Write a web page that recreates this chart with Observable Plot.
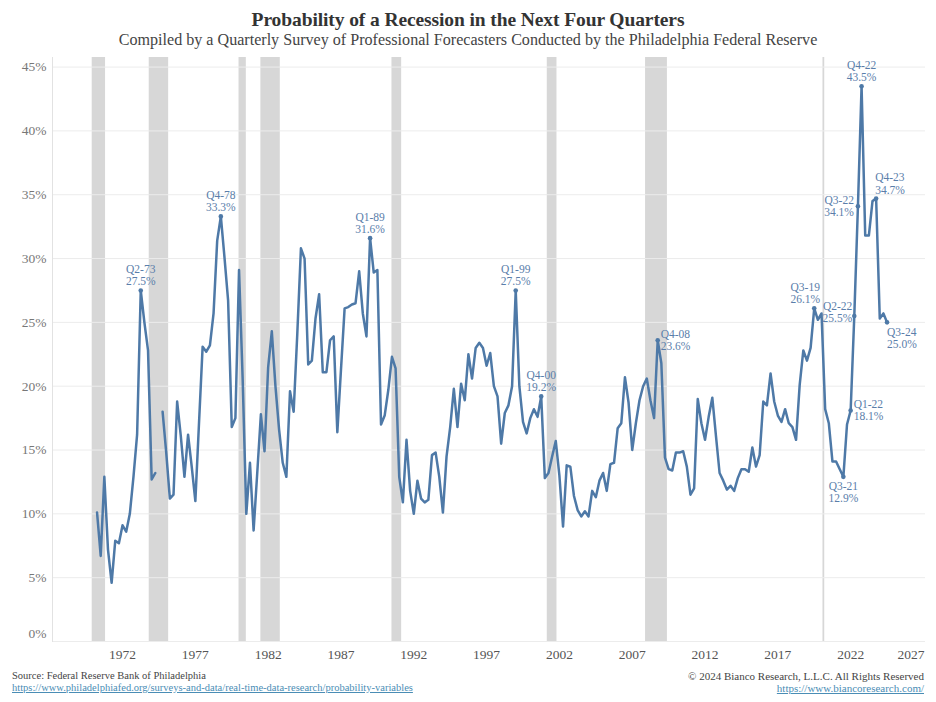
<!DOCTYPE html>
<html>
<head>
<meta charset="utf-8">
<script src="https://cdn.jsdelivr.net/npm/d3@7"></script>
<script src="https://cdn.jsdelivr.net/npm/@observablehq/plot@0.6"></script>
<style>
  html, body { margin: 0; padding: 0; background: #fff; }
  body { width: 936px; height: 702px; overflow: hidden; font-family: "Liberation Serif", serif; }
  #header { height: 50px; text-align: center; }
  #title { padding-top: 9px; font-size: 19.5px; font-weight: bold; color: #333; line-height: 22px; letter-spacing: -0.1px; }
  #subtitle { font-size: 16.1px; color: #444; line-height: 18px; }
  #chart { height: 616px; }
  #footer { position: relative; height: 36px; font-size: 10.5px; line-height: 12px; padding-top: 4px; }
  #footer .left { position: absolute; left: 12px; top: 4px; color: #444; }
  #footer .right { position: absolute; right: 12px; top: 4px; text-align: right; color: #444; font-size: 11px; }
  #footer a { color: #4a8db5; text-decoration: underline; }
</style>
</head>
<body>
<div id="header">
  <div id="title">Probability of a Recession in the Next Four Quarters</div>
  <div id="subtitle">Compiled by a Quarterly Survey of Professional Forecasters Conducted by the Philadelphia Federal Reserve</div>
</div>
<div id="chart"></div>
<div id="footer">
  <div class="left">Source: Federal Reserve Bank of Philadelphia<br><a>https://www.philadelphiafed.org/surveys-and-data/real-time-data-research/probability-variables</a></div>
  <div class="right">© 2024 Bianco Research, L.L.C. All Rights Reserved<br><a>https://www.biancoresearch.com/</a></div>
</div>
<script>
// Quarterly series, starting Q2 1970 (null = missing survey)
const startYear = 1970;
const startQuarter = 2;
const values = [
  10.1, 6.7, 12.9,
  7.2, 4.6, 7.9, 7.7,
  9.1, 8.6, 10.0, 12.9,
  16.2, 27.5, 25.0, 22.8,
  12.7, 13.2, null, 18.0,
  14.8, 11.2, 11.5, 18.8,
  16.1, 12.9, 16.2, 13.7,
  11.0, 17.1, 23.1, 22.7,
  23.2, 25.7, 31.4, 33.3,
  30.1, 26.7, 16.8, 17.5,
  29.1, 20.5, 10.0, 14.0,
  8.7, 13.2, 17.8, 14.9,
  21.5, 24.3, 20.0, 16.6,
  14.0, 12.9, 19.6, 18.0,
  24.1, 30.8, 30.0, 21.7,
  22.0, 25.3, 27.2, 21.1,
  21.1, 23.6, 23.9, 16.4,
  21.3, 26.1, 26.2, 26.4,
  26.5, 29.0, 25.7, 23.9,
  31.6, 28.9, 29.1, 17.0,
  17.7, 19.7, 22.3, 21.4,
  12.9, 10.9, 15.8, 11.8,
  10.0, 12.6, 11.2, 10.9,
  11.1, 14.6, 14.8, 12.9,
  10.1, 14.5, 16.8, 19.8,
  16.8, 20.2, 18.9, 22.5,
  20.6, 23.0, 23.4, 23.0,
  21.6, 22.6, 20.0, 19.2,
  15.5, 17.9, 18.5, 20.0,
  27.5, 20.0, 17.2, 16.3,
  17.5, 18.2, 17.6, 19.2,
  12.8, 13.2, 14.5, 15.7,
  13.0, 9.0, 13.8, 13.7,
  11.4, 10.3, 9.8, 10.2,
  9.8, 11.8, 11.3, 12.6,
  13.2, 11.8, 13.9, 14.0,
  16.7, 17.1, 20.7, 18.7,
  15.0, 17.1, 18.9, 20.0,
  20.6, 18.9, 17.5, 23.6,
  21.8, 14.4, 13.5, 13.4,
  14.8, 14.8, 14.9, 13.7,
  11.5, 12.0, 19.0, 17.1,
  15.8, 17.6, 19.1, 16.1,
  13.2, 12.6, 11.9, 12.2,
  11.8, 12.8, 13.5, 13.5,
  13.3, 15.2, 13.7, 14.6,
  18.8, 18.5, 21.0, 18.8,
  17.7, 17.2, 18.2, 17.1,
  16.8, 15.8, 20.1, 22.8,
  22.0, 23.0, 26.1, 25.2,
  25.7, 18.2, 17.1, 14.1,
  14.1, 13.5, 12.9, 17.0,
  18.1, 25.5, 34.1, 43.5,
  31.8, 31.8, 34.5, 34.7,
  25.3, 25.7, 25.0
];

// NBER recessions (decimal years)
const recessionStart = [1969.917, 1973.833, 1980.0, 1981.5, 1990.5, 2001.167, 2007.917, 2020.1];
const recessionEnd   = [1970.833, 1975.167, 1980.5, 1982.833, 1991.167, 2001.833, 2009.417, 2020.22];

const yTicks = [5, 10, 15, 20, 25, 30, 35, 40, 45];
const yZeroTick = [0];
const xTicks = [1972, 1977, 1982, 1987, 1992, 1997, 2002, 2007, 2012, 2017, 2022];
const xLastTick = [2027];

// labelled points and where their label sits
const annotLabels = ["Q2-73", "Q4-78", "Q1-89", "Q1-99", "Q4-00", "Q4-08", "Q3-19", "Q3-21", "Q1-22", "Q2-22", "Q3-22", "Q4-22", "Q4-23", "Q3-24"];
const annotPos    = ["top",   "top",   "top",   "top",   "top",   "right", "topleft", "below", "right", "left2", "left", "top", "topright", "belowright"];

const data = values.map((v, i) => {
  const qi = startQuarter - 1 + i;
  const year = startYear + Math.floor(qi / 4);
  const q = (qi % 4) + 1;
  return {t: year + (q - 1) / 4, v, label: `Q${q}-${String(year).slice(2)}`};
});
const recessions = recessionStart.map((s, i) => ({start: s, end: recessionEnd[i]}));
const annots = annotLabels.map((l, i) => {
  const d = data.find(e => e.label === l);
  return {...d, pos: annotPos[i], text: `${l}\n${d.v.toFixed(1)}%`};
});
const byPos = p => annots.filter(a => a.pos === p);

const lineColor = "#4e79a7";
const labelColor = "#5a7eaa";
const lab = {x: "t", y: "v", text: "text", fill: labelColor, fontSize: 11.5, lineHeight: 1.05};
const yAxisStyle = {tickSize: 0, tickPadding: 6, tickFormat: d => d + "%", fill: "#777", fontSize: 13.5, label: null};
const xAxisStyle = {tickSize: 0, tickPadding: 8, tickFormat: d => String(d), fill: "#555", fontSize: 13.5, label: null};

const chart = Plot.plot({
  width: 936,
  height: 616,
  marginLeft: 52,
  marginRight: 11,
  marginTop: 7,
  marginBottom: 25,
  style: {fontFamily: "Liberation Serif, serif", fontSize: "13px", background: "#fff"},
  x: {domain: [1967.19, 2027.14], axis: null},
  y: {domain: [0, 45.75], axis: null},
  marks: [
    Plot.rect(recessions, {x1: "start", x2: "end", fill: "#d7d7d7"}),
    Plot.gridY([...yZeroTick, ...yTicks], {stroke: "#ececec", strokeOpacity: 1, strokeWidth: 1}),
    Plot.frame({anchor: "left", stroke: "#e2e2e2"}),
    Plot.axisY(yTicks, yAxisStyle),
    Plot.axisY(yZeroTick, {...yAxisStyle, dy: -8}),
    Plot.axisX(xTicks, xAxisStyle),
    Plot.axisX(xLastTick, {...xAxisStyle, textAnchor: "end", dx: 1}),
    Plot.line(data, {x: "t", y: "v", stroke: lineColor, strokeWidth: 2.5, strokeLinejoin: "round"}),
    Plot.dot(annots, {x: "t", y: "v", r: 2.3, fill: lineColor}),
    Plot.text(byPos("top"), {...lab, lineAnchor: "bottom", dy: -5}),
    Plot.text(byPos("topleft"), {...lab, lineAnchor: "bottom", dy: -5, dx: -9}),
    Plot.text(byPos("topright"), {...lab, lineAnchor: "bottom", dy: -5, textAnchor: "start", dx: -1}),
    Plot.text(byPos("right"), {...lab, lineAnchor: "middle", textAnchor: "start", dx: 3}),
    Plot.text(byPos("left"), {...lab, lineAnchor: "middle", textAnchor: "end", dx: -4}),
    Plot.text(byPos("left2"), {...lab, lineAnchor: "middle", textAnchor: "end", dx: -2, dy: -4}),
    Plot.text(byPos("below"), {...lab, lineAnchor: "top", dy: 5}),
    Plot.text(byPos("belowright"), {...lab, lineAnchor: "top", dy: 5, textAnchor: "start", dx: 0})
  ]
});
document.getElementById("chart").appendChild(chart);
</script>
</body>
</html>
